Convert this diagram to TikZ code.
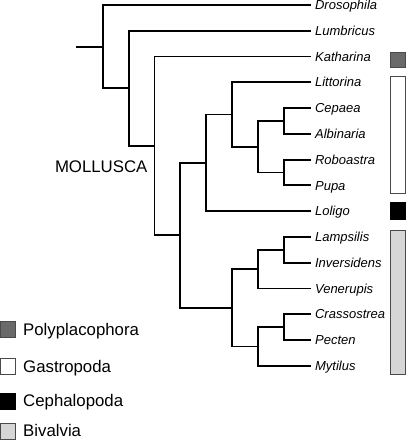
\documentclass[tikz,border=0pt]{standalone}
\usepackage{fontspec}
\setmainfont{Liberation Sans}
\definecolor{polyfill}{HTML}{6A6A6A}
\definecolor{bivfill}{HTML}{D6D6D6}
\definecolor{boxline}{HTML}{4A4A4A}
\begin{document}
\begin{tikzpicture}[x=1pt,y=-1pt,
  branch/.style={line width=1.9pt, line cap=rect},
  taxon/.style={anchor=west, font=\fontsize{13}{15}\selectfont\itshape, inner xsep=5pt, inner ysep=0pt, text height=9.3pt, text depth=0pt},
  bigtext/.style={anchor=base west, inner sep=0pt, font=\fontsize{16.8}{20}\selectfont},
  groupbox/.style={draw=boxline, line width=0.9pt}
]
\useasboundingbox (0,0) rectangle (406,440);

% internal nodes
\coordinate (stub) at (76.8,46.7);
\coordinate (root) at (102.7,46.7);
\coordinate (n2) at (128.6,88.3);
\coordinate (n3) at (154.5,145.9);
\coordinate (n4) at (180.4,235.3);
\coordinate (n5) at (206.3,162.8);
\coordinate (n6) at (232.2,114.5);
\coordinate (n7) at (258.1,146.7);
\coordinate (n8) at (284.0,120.96);
\coordinate (n9) at (284.0,172.5);
\coordinate (nb) at (232.2,307.8);
\coordinate (nliv) at (258.1,269.1);
\coordinate (nli) at (284.0,249.8);
\coordinate (ncpm) at (258.1,346.5);
\coordinate (ncp) at (284.0,327.1);

% taxa
\node[taxon] (dro) at (309.9,5.0) {Drosophila};
\node[taxon] (lum) at (309.9,30.77) {Lumbricus};
\node[taxon] (kat) at (309.9,56.54) {Katharina};
\node[taxon] (lit) at (309.9,82.31) {Littorina};
\node[taxon] (cep) at (309.9,108.08) {Cepaea};
\node[taxon] (alb) at (309.9,133.85) {Albinaria};
\node[taxon] (rob) at (309.9,159.62) {Roboastra};
\node[taxon] (pup) at (309.9,185.39) {Pupa};
\node[taxon] (lol) at (309.9,211.16) {Loligo};
\node[taxon] (lam) at (309.9,236.93) {Lampsilis};
\node[taxon] (inv) at (309.9,262.7) {Inversidens};
\node[taxon] (ven) at (309.9,288.47) {Venerupis};
\node[taxon] (cra) at (309.9,314.24) {Crassostrea};
\node[taxon] (pec) at (309.9,340.01) {Pecten};
\node[taxon] (myt) at (309.9,365.78) {Mytilus};

% branches
\draw[branch] (stub) -- (root);
\draw[branch] (root) |- (dro.west);
\draw[branch] (root) |- (n2);
\draw[branch] (n2) |- (lum.west);
\draw[branch] (n2) |- (n3);
\draw[branch] (n3) |- (kat.west);
\draw[branch] (n3) |- (n4);
\draw[branch] (n4) |- (n5);
\draw[branch] (n4) |- (nb);
\draw[branch] (n5) |- (n6);
\draw[branch] (n5) |- (lol.west);
\draw[branch] (n6) |- (lit.west);
\draw[branch] (n6) |- (n7);
\draw[branch] (n7) |- (n8);
\draw[branch] (n7) |- (n9);
\draw[branch] (n8) |- (cep.west);
\draw[branch] (n8) |- (alb.west);
\draw[branch] (n9) |- (rob.west);
\draw[branch] (n9) |- (pup.west);
\draw[branch] (nb) |- (nliv);
\draw[branch] (nb) |- (ncpm);
\draw[branch] (nliv) |- (nli);
\draw[branch] (nliv) |- (ven.west);
\draw[branch] (nli) |- (lam.west);
\draw[branch] (nli) |- (inv.west);
\draw[branch] (ncpm) |- (ncp);
\draw[branch] (ncpm) |- (myt.west);
\draw[branch] (ncp) |- (cra.west);
\draw[branch] (ncp) |- (pec.west);

% clade label
\node[bigtext] (mol) at (54.8,172.7) {MOLLUSCA};

% group bars
\draw[groupbox, fill=polyfill] (390.7,52.2) rectangle (405.3,67.8);
\draw[groupbox, fill=white] (390.7,76.2) rectangle (405.3,193.8);
\draw[groupbox, draw=black, fill=black] (390.7,202) rectangle (405.3,219.6);
\draw[groupbox, fill=bivfill] (390.7,230.8) rectangle (405.3,374.8);

% legend
\draw[groupbox, fill=polyfill] (0.6,321.2) rectangle (15,337);
\draw[groupbox, fill=white] (0.6,358) rectangle (15,374.6);
\draw[groupbox, draw=black, fill=black] (0.6,393) rectangle (15,409);
\draw[groupbox, fill=bivfill] (0.6,423) rectangle (15,439.4);
\node[bigtext] (lpoly) at (23,335.5) {Polyplacophora};
\node[bigtext] (lgas) at (23,372.5) {Gastropoda};
\node[bigtext] (lcep) at (23,406.8) {Cephalopoda};
\node[bigtext] (lbiv) at (23,436.8) {Bivalvia};
\end{tikzpicture}
\end{document}
